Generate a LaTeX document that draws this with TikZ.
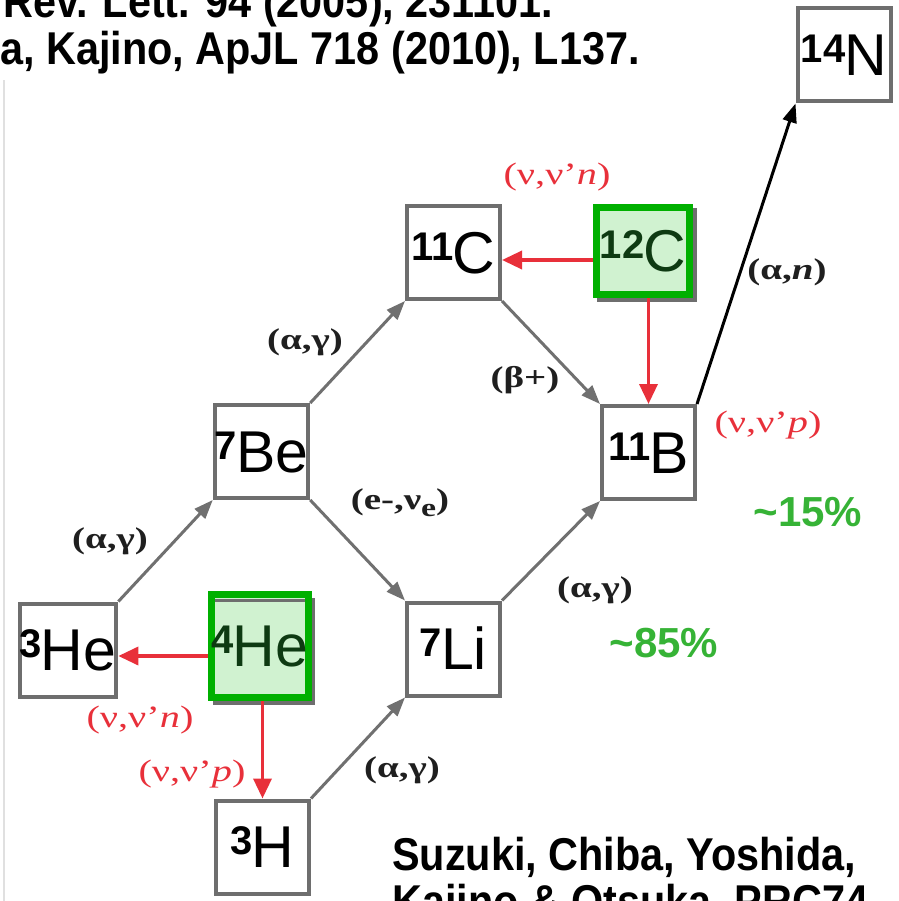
\documentclass[tikz,border=0pt]{standalone}
\usepackage{fontspec}
\setmainfont{Liberation Serif}
\newfontfamily\nucfont{Liberation Sans}
\usetikzlibrary{arrows.meta}
\definecolor{boxgray}{HTML}{6E6E6E}
\definecolor{linkgray}{HTML}{707070}
\definecolor{nured}{HTML}{E8303A}
\definecolor{seedgreen}{HTML}{00B000}
\definecolor{seedfill}{HTML}{D0F2D0}
\definecolor{seedtext}{HTML}{0E3A12}
\definecolor{pctgreen}{HTML}{36B336}
% isotope label: bold mass number raised, element symbol at full size
\newcommand{\nuc}[2]{\raisebox{13pt}{\bfseries\fontsize{40}{40}\selectfont #1}\kern-1pt #2}
% reaction labels are set a little wide
\newcommand{\rx}[1]{\scalebox{1.3}[1]{#1}}
\newcommand{\subE}{\raisebox{-7pt}{\fontsize{26}{26}\selectfont e}}
\begin{document}
\begin{tikzpicture}[x=1pt,y=-1pt,
  nucbox/.style={draw=boxgray, line width=4pt, fill=white, minimum width=93pt,
    minimum height=93pt, inner sep=0pt, text height=41.5pt, text depth=0pt,
    font=\nucfont\fontsize{59}{59}\selectfont},
  seedbox/.style={nucbox, draw=seedgreen, line width=7pt, fill=seedfill, text=seedtext},
  link/.style={draw=linkgray, line width=3pt, -{Triangle[length=19pt,width=14pt]}},
  alink/.style={draw=black, line width=3pt, -{Triangle[length=19pt,width=14pt]}},
  nulink/.style={draw=nured, line width=3.5pt, -{Triangle[length=20pt,width=18pt]}},
  rlab/.style={font=\bfseries\fontsize{30}{30}\selectfont, text=black!88, inner sep=0pt},
  nulab/.style={font=\fontsize{31}{31}\selectfont, text=nured, inner sep=0pt},
  pct/.style={font=\nucfont\bfseries\fontsize{42}{42}\selectfont, text=pctgreen, inner sep=0pt},
  reftext/.style={font=\nucfont\bfseries\fontsize{46}{46}\selectfont, anchor=base west, inner sep=0pt},
]
\useasboundingbox (0,0) rectangle (898,901);
\clip (0,0) rectangle (898,901);

% faint page edge on the left
\draw[black!12, line width=2pt] (4,80) -- (4,901);

% references
\node[reftext] (ref1) at (3,18) {\scalebox{0.9}[1]{Rev. Lett. 94 (2005), 231101.}};
\node[reftext] (ref2) at (0,65) {\scalebox{0.9}[1]{a, Kajino, ApJL 718 (2010), L137.}};
\node[reftext] (ref3) at (392,870) {\scalebox{0.9}[1]{Suzuki, Chiba, Yoshida,}};
\node[reftext] (ref4) at (392,917) {\scalebox{0.9}[1]{Kajino \& Otsuka, PRC74}};

% shadows of the seed nuclei boxes
\draw[boxgray, line width=4pt] (599,210) rectangle (695,300);
\draw[boxgray, line width=4pt] (215,600) rectangle (313,703);

% nuclei
\node[nucbox] (n14) at (844,55) {\nuc{14}{N}};
\node[nucbox] (c11) at (453.5,252.5) {\nuc{11}{C}};
\node[seedbox, minimum width=93pt, minimum height=87pt] (c12) at (643,251) {\nuc{12}{C}};
\node[nucbox] (be7) at (261.5,451.5) {\nuc{7}{Be}};
\node[nucbox] (b11) at (648.5,452.5) {\nuc{11}{B}};
\node[nucbox] (he3) at (68,650) {\nuc{3}{He}};
\node[seedbox, minimum width=95pt, minimum height=103pt] (he4) at (260,646) {\nuc{4}{He}};
\node[nucbox] (li7) at (453.5,649) {\nuc{7}{Li}};
\node[nucbox] (h3) at (262.5,847) {\nuc{3}{H}};
\draw[boxgray, line width=3pt] (215,600.5) -- (305,600.5);

% reaction flow
\draw[link] (he3.north east) -- (be7.south west);
\draw[link] (be7.north east) -- (c11.south west);
\draw[link] (c11.south east) -- (b11.north west);
\draw[link] (be7.south east) -- (li7.north west);
\draw[link] (li7.north east) -- (b11.south west);
\draw[link] (h3.north east) -- (li7.south west);
\draw[alink] (b11.north east) -- (n14.south west);

% neutrino spallation
\coordinate (c11in) at ([yshift=-7.5pt]c11.east);
\coordinate (he3in) at ([yshift=-6pt]he3.east);
\draw[nulink] (c12.west |- c11in) -- (c11in);
\draw[nulink] (c12.south -| b11.north) -- (b11.north);
\draw[nulink] (he4.west |- he3in) -- (he3in);
\draw[nulink] (he4.south -| h3.north) -- (h3.north);

% reaction labels
\node[rlab] (r1) at (305,342) {\rx{(α,γ)}};
\node[rlab] (r2) at (525,380) {\rx{(β+)}};
\node[rlab] (r3) at (400,503) {\rx{(e-,ν\subE)}};
\node[rlab] (r4) at (110,541) {\rx{(α,γ)}};
\node[rlab] (r5) at (595,590) {\rx{(α,γ)}};
\node[rlab] (r6) at (402,770) {\rx{(α,γ)}};
\node[rlab] (r7) at (787,272) {\rx{(α,\textit{n})}};
\node[nulab] (s1) at (557,177) {\rx{(ν,ν'\textit{n})}};
\node[nulab] (s2) at (768,425) {\rx{(ν,ν'\textit{p})}};
\node[nulab] (s3) at (140,720) {\rx{(ν,ν'\textit{n})}};
\node[nulab] (s4) at (192,774) {\rx{(ν,ν'\textit{p})}};

% branching ratios
\node[pct] (p15) at (808,512) {\textasciitilde15\%};
\node[pct] (p85) at (664,643) {\textasciitilde85\%};
\end{tikzpicture}
\end{document}
